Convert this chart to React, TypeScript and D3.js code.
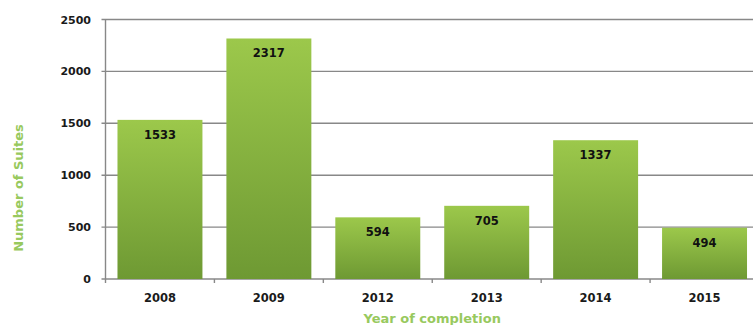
import React from "react";
import * as d3 from "d3";

const categories = ["2008", "2009", "2012", "2013", "2014", "2015"];
const values = [1533, 2317, 594, 705, 1337, 494];
const yTicks = [0, 500, 1000, 1500, 2000, 2500];

const W = 753;
const H = 325;
const margin = { left: 105.5, top: 19.5, bottom: 46 };
const plotRight = 759;
const FONT = "'DejaVu Sans', Verdana, sans-serif";

export default function App() {
  const x = d3
    .scaleBand<string>()
    .domain(categories)
    .range([margin.left, plotRight])
    .paddingInner(0.22)
    .paddingOuter(0.11);
  const y = d3
    .scaleLinear()
    .domain([0, 2500])
    .range([H - margin.bottom, margin.top]);
  const y0 = y(0);
  const step = x.step();
  const boundaries = categories.map((_, i) => margin.left + step * (i + 1));

  return (
    <svg
      width={W}
      height={H}
      style={{ position: "absolute", left: 0, top: 0, background: "#fff" }}
    >
      <defs>
        <linearGradient id="barGrad" x1="0" y1="0" x2="0" y2="1">
          <stop offset="0%" stopColor="#9cc84b" />
          <stop offset="100%" stopColor="#6e9933" />
        </linearGradient>
      </defs>
      {yTicks.map((t) => (
        <g key={t}>
          <line
            x1={margin.left - 4}
            x2={W}
            y1={y(t)}
            y2={y(t)}
            stroke="#888"
            strokeWidth={1.4}
          />
          <text
            x={91}
            y={y(t) + 4}
            textAnchor="end"
            fontFamily={FONT}
            fontWeight="bold"
            fontSize={11}
            fill="#1a1a1a"
          >
            {t}
          </text>
        </g>
      ))}
      <line
        x1={margin.left}
        x2={margin.left}
        y1={y(2500)}
        y2={y0 + 4}
        stroke="#888"
        strokeWidth={1.4}
      />
      {boundaries.map((bx, i) => (
        <line
          key={i}
          x1={bx}
          x2={bx}
          y1={y0}
          y2={y0 + 4}
          stroke="#888"
          strokeWidth={1.4}
        />
      ))}
      {categories.map((c, i) => {
        const bx = x(c)!;
        const bw = x.bandwidth();
        const by = y(values[i]);
        return (
          <g key={c}>
            <rect
              x={bx}
              y={by}
              width={bw}
              height={y0 - by}
              fill="url(#barGrad)"
            />
            <text
              x={bx + bw / 2}
              y={by + 19}
              textAnchor="middle"
              fontFamily={FONT}
              fontWeight="bold"
              fontSize={11.5}
              fill="#111"
            >
              {values[i]}
            </text>
            <text
              x={bx + bw / 2}
              y={302}
              textAnchor="middle"
              fontFamily={FONT}
              fontWeight="bold"
              fontSize={11.5}
              fill="#1a1a1a"
            >
              {c}
            </text>
          </g>
        );
      })}
      <text
        x={(margin.left + plotRight) / 2}
        y={323}
        textAnchor="middle"
        fontFamily={FONT}
        fontWeight="bold"
        fontSize={13}
        fill="#98c95e"
      >
        Year of completion
      </text>
      <text
        transform={`translate(23, 188) rotate(-90)`}
        textAnchor="middle"
        fontFamily={FONT}
        fontWeight="bold"
        fontSize={13}
        fill="#98c95e"
      >
        Number of Suites
      </text>
    </svg>
  );
}
